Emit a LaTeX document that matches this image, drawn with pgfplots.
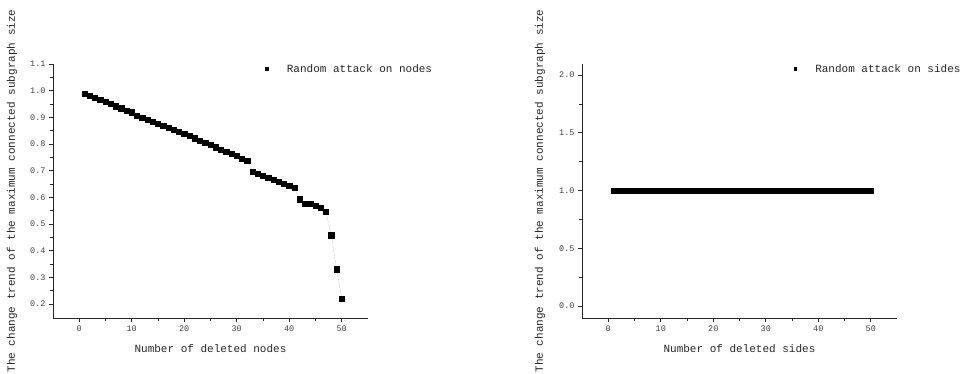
\documentclass[border=0pt]{standalone}
\usepackage{pgfplots}
\pgfplotsset{compat=1.18}
\usepackage{fontspec}
\setmainfont{Liberation Mono}
\pgfplotsset{
  common/.style={
    scale only axis, width=315pt, height=254pt,
    anchor=south west,
    axis x line=bottom, axis y line=left,
    axis line style={-, line width=0.8pt, black!85},
    tick align=outside,
    major tick length=4pt, minor tick length=3pt,
    every tick/.style={black!85, line width=0.6pt},
    xmin=-5, xmax=55,
    xtick={0,10,20,30,40,50},
    minor x tick num=1,
    minor y tick num=1,
    /pgf/number format/assume math mode=true,
    tick label style={font=\fontsize{8.5}{9}\selectfont, text=black!75},
    yticklabel style={/pgf/number format/.cd, fixed, fixed zerofill, precision=1},
    label style={font=\fontsize{11}{13}\selectfont, text=black!85},
    legend style={draw=none, fill=none, inner sep=0pt, anchor=west,
      font=\fontsize{11}{13}\selectfont, text=black!85,
      nodes={inner sep=0pt}},
    legend image code/.code={\path[draw=none, fill=black, solid] (-1.7pt,-1.7pt) rectangle (1.7pt,1.7pt); \path[draw=none, fill=none] (0pt,0pt) -- (20pt,0pt);},
    clip=false,
  },
  dat/.style={densely dotted, gray, line width=0.4pt, mark=square*, mark size=2.6pt,
    mark options={solid, fill=black, draw=black}},
}
\begin{document}
\begin{tikzpicture}
\path[use as bounding box] (0pt,0pt) rectangle (964pt,374pt);
\begin{axis}[common, at={(53pt,56pt)},
  ymin=0.148, ymax=1.1,
  ytick={0.2,0.3,0.4,0.5,0.6,0.7,0.8,0.9,1.0,1.1},
  xlabel={Number of deleted nodes},
  ylabel={The change trend of the maximum connected subgraph size},
  xlabel style={at={(axis description cs:0.5,-0.122)}, anchor=center},
  ylabel style={at={(axis description cs:-0.13,0.5)}, anchor=center},
  legend style={at={(axis description cs:0.673,0.98)}},
]
\addplot[dat] coordinates {
(1,0.990) (2,0.982) (3,0.974) (4,0.966) (5,0.958) (6,0.950) (7,0.942) (8,0.934) (9,0.926) (10,0.919)
(11,0.905) (12,0.898) (13,0.890) (14,0.883) (15,0.875) (16,0.868) (17,0.860) (18,0.853) (19,0.845) (20,0.838)
(21,0.830) (22,0.822) (23,0.813) (24,0.805) (25,0.797) (26,0.788) (27,0.780) (28,0.772) (29,0.763) (30,0.755)
(31,0.746) (32,0.738)
(33,0.697) (34,0.689) (35,0.682) (36,0.674) (37,0.666) (38,0.659) (39,0.651) (40,0.643) (41,0.635)
(42,0.593) (43,0.577) (44,0.576) (45,0.570) (46,0.561) (47,0.546)
(48,0.458) (49,0.331) (50,0.221)
};
\addlegendentry{Random attack on nodes}
\end{axis}
\begin{axis}[common, at={(582pt,56pt)},
  ymin=-0.104, ymax=2.095,
  ytick={0,0.5,1.0,1.5,2.0},
  xlabel={Number of deleted sides},
  ylabel={The change trend of the maximum connected subgraph size},
  xlabel style={at={(axis description cs:0.5,-0.122)}, anchor=center},
  ylabel style={at={(axis description cs:-0.133,0.5)}, anchor=center},
  legend style={at={(axis description cs:0.671,0.98)}},
]
\addplot[dat] coordinates {
(1,1) (2,1) (3,1) (4,1) (5,1) (6,1) (7,1) (8,1) (9,1) (10,1)
(11,1) (12,1) (13,1) (14,1) (15,1) (16,1) (17,1) (18,1) (19,1) (20,1)
(21,1) (22,1) (23,1) (24,1) (25,1) (26,1) (27,1) (28,1) (29,1) (30,1)
(31,1) (32,1) (33,1) (34,1) (35,1) (36,1) (37,1) (38,1) (39,1) (40,1)
(41,1) (42,1) (43,1) (44,1) (45,1) (46,1) (47,1) (48,1) (49,1) (50,1)
};
\addlegendentry{Random attack on sides}
\end{axis}
\end{tikzpicture}
\end{document}
